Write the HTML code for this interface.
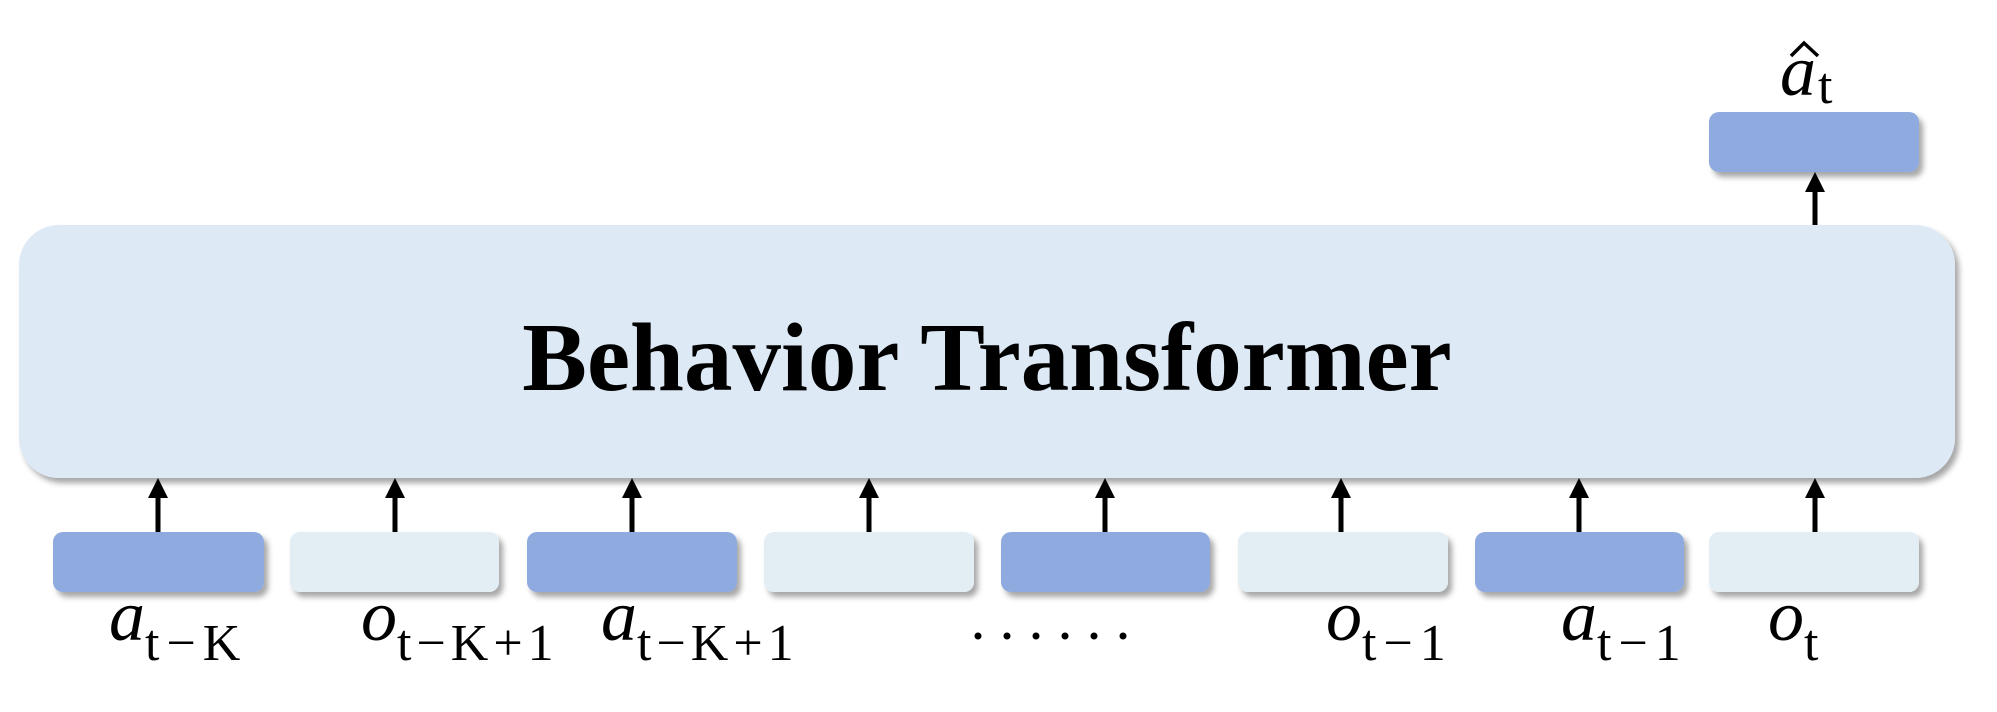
<!DOCTYPE html>
<html><head><meta charset="utf-8"><style>
body{margin:0;background:#fff;}
svg{display:block;}
</style></head><body>
<svg width="1997" height="712" viewBox="0 0 1997 712" xmlns="http://www.w3.org/2000/svg">
<defs>
<filter id="sh" x="-10%" y="-30%" width="120%" height="170%">
<feDropShadow dx="4" dy="5" stdDeviation="3" flood-color="#000" flood-opacity="0.35"/>
</filter>
</defs>
<rect x="19" y="225" width="1936" height="253" rx="40" fill="#dde9f5" filter="url(#sh)"/>
<text x="987" y="390" text-anchor="middle" font-family="Liberation Serif, serif" font-weight="bold" font-size="97" fill="#000">Behavior Transformer</text>
<rect x="1709" y="112" width="210" height="60" rx="10" fill="#8faadf" filter="url(#sh)"/>
<g filter="url(#sh)">
<rect x="53" y="532" width="211" height="60" rx="10" fill="#8faadf"/>
<rect x="290" y="532" width="209" height="60" rx="10" fill="#e3edf4"/>
<rect x="527" y="532" width="210" height="60" rx="10" fill="#8faadf"/>
<rect x="764" y="532" width="210" height="60" rx="10" fill="#e3edf4"/>
<rect x="1001" y="532" width="209" height="60" rx="10" fill="#8faadf"/>
<rect x="1238" y="532" width="210" height="60" rx="10" fill="#e3edf4"/>
<rect x="1475" y="532" width="209" height="60" rx="10" fill="#8faadf"/>
<rect x="1709" y="532" width="210" height="60" rx="10" fill="#e3edf4"/>
</g>
<g stroke="#000" stroke-width="5">
<line x1="158" y1="532" x2="158" y2="494"/>
<line x1="395" y1="532" x2="395" y2="494"/>
<line x1="632" y1="532" x2="632" y2="494"/>
<line x1="869" y1="532" x2="869" y2="494"/>
<line x1="1105" y1="532" x2="1105" y2="494"/>
<line x1="1341" y1="532" x2="1341" y2="494"/>
<line x1="1579" y1="532" x2="1579" y2="494"/>
<line x1="1815" y1="532" x2="1815" y2="494"/>
<line x1="1815" y1="225" x2="1815" y2="188"/>
</g>
<g fill="#000">
<polygon points="148,498 168,498 158,478"/>
<polygon points="385,498 405,498 395,478"/>
<polygon points="622,498 642,498 632,478"/>
<polygon points="859,498 879,498 869,478"/>
<polygon points="1095,498 1115,498 1105,478"/>
<polygon points="1331,498 1351,498 1341,478"/>
<polygon points="1569,498 1589,498 1579,478"/>
<polygon points="1805,498 1825,498 1815,478"/>
<polygon points="1805,192 1825,192 1815,172"/>
</g>
<g font-family="Liberation Serif, serif" fill="#000">
<text x="109" y="640" font-size="72" font-style="italic">a</text><text x="145" y="660" font-size="52" letter-spacing="7">t−K</text>
<text x="361" y="640" font-size="72" font-style="italic">o</text><text x="397" y="660" font-size="52" letter-spacing="5">t−K+1</text>
<text x="601" y="640" font-size="72" font-style="italic">a</text><text x="637" y="660" font-size="52" letter-spacing="5">t−K+1</text>
<text x="1326" y="640" font-size="72" font-style="italic">o</text><text x="1362" y="660" font-size="52" letter-spacing="7">t−1</text>
<text x="1561" y="640" font-size="72" font-style="italic">a</text><text x="1597" y="660" font-size="52" letter-spacing="7">t−1</text>
<text x="1768" y="640" font-size="72" font-style="italic">o</text><text x="1804" y="660" font-size="52">t</text>
<text x="1780" y="95" font-size="72" font-style="italic">a</text><text x="1818" y="103" font-size="52">t</text>
</g>
<g fill="#000">
<circle cx="978" cy="636" r="3.5"/><circle cx="1007" cy="636" r="3.5"/><circle cx="1036" cy="636" r="3.5"/>
<circle cx="1065" cy="636" r="3.5"/><circle cx="1094" cy="636" r="3.5"/><circle cx="1123" cy="636" r="3.5"/>
</g>
<polyline points="1791,56 1804,43 1818,56" fill="none" stroke="#000" stroke-width="3.5"/>
</svg>
</body></html>
